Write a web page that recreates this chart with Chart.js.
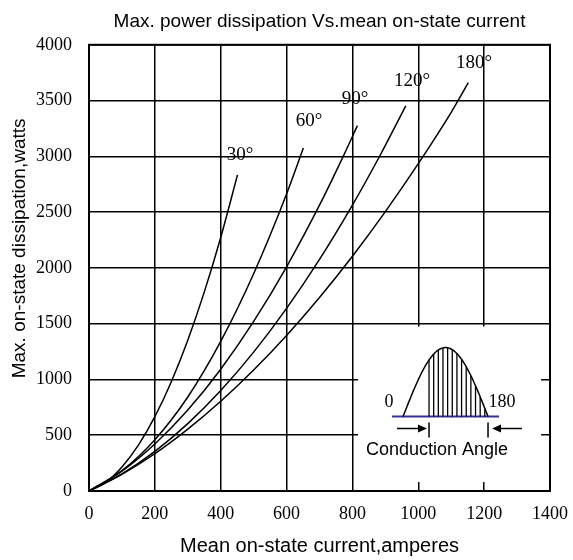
<!DOCTYPE html>
<html>
<head>
<meta charset="utf-8">
<script src="https://cdn.jsdelivr.net/npm/chart.js@4.4.1/dist/chart.umd.min.js"></script>
<style>
    html, body { margin: 0; padding: 0; background: #fff; }
    #wrap { width: 573px; height: 560px; }
</style>
</head>
<body>
<div id="wrap"><canvas id="powerChart"></canvas></div>
<script>
// ====== DATA ======
const xTickValues = [0, 200, 400, 600, 800, 1000, 1200, 1400];
const yTickValues = [0, 500, 1000, 1500, 2000, 2500, 3000, 3500, 4000];

const current30 = [0, 50, 100, 150, 200, 250, 300, 350, 400, 451];
const power30   = [0, 75, 215, 411, 666, 980, 1352, 1783, 2273, 2834];

const current60 = [0, 100, 200, 300, 400, 500, 600, 651];
const power60   = [0, 182, 460, 843, 1341, 1947, 2662, 3074];

const current90 = [0, 100, 200, 300, 400, 500, 600, 700, 772, 815];
const power90   = [0, 178, 422, 726, 1092, 1520, 2010, 2562, 3000, 3275];

const current120 = [0, 100, 200, 300, 400, 500, 600, 700, 800, 883, 962];
const power120   = [0, 154, 355, 604, 901, 1245, 1637, 2076, 2563, 3003, 3453];

const current180 = [0, 100, 200, 300, 400, 500, 600, 700, 800, 900, 1000, 1100, 1152];
const power180   = [0, 150, 335, 555, 805, 1085, 1395, 1735, 2105, 2505, 2935, 3395, 3660];

const angleLabels = ['30°', '60°', '90°', '120°', '180°'];
const angleLabelX = [459, 668, 808, 981, 1169];
const angleLabelY = [3011, 3317, 3515, 3676, 3838];

const yTitle = 'Max. on-state dissipation,watts';
const yTitleAt = 2175;   // the rotated title sits a bit above the axis middle

// inset box (in axis units) that hides the grid behind the waveform sketch
const insetX = [817, 1373];
const insetY = [80, 1474];

function toPoints(xs, ys) {
    return xs.map((v, i) => ({ x: v, y: ys[i] }));
}

function curve(label, xs, ys) {
    return {
        label: label,
        data: toPoints(xs, ys),
        showLine: true,
        borderColor: '#000',
        borderWidth: 1.5,
        pointRadius: 0,
        fill: false,
        cubicInterpolationMode: 'monotone'
    };
}

// ====== PLUGINS ======
const frame = {
    id: 'frame',
    afterDatasetsDraw(chart) {
        const { ctx, chartArea: a } = chart;
        ctx.save();
        ctx.strokeStyle = '#000';
        ctx.lineWidth = 2;
        ctx.strokeRect(a.left, a.top, a.right - a.left, a.bottom - a.top);
        ctx.restore();
    }
};

const angleText = {
    id: 'angleText',
    afterDatasetsDraw(chart) {
        const { ctx, scales } = chart;
        ctx.save();
        ctx.font = '19px "Liberation Serif"';
        ctx.fillStyle = '#000';
        ctx.textAlign = 'center';
        ctx.textBaseline = 'middle';
        angleLabels.forEach((t, i) => {
            ctx.fillText(t, scales.x.getPixelForValue(angleLabelX[i]), scales.y.getPixelForValue(angleLabelY[i]));
        });

        // y axis title
        ctx.translate(20, scales.y.getPixelForValue(yTitleAt));
        ctx.rotate(-Math.PI / 2);
        ctx.font = '19px "Liberation Sans"';
        ctx.fillText(yTitle, 0, 0);
        ctx.restore();
    }
};

const inset = {
    id: 'inset',
    afterDatasetsDraw(chart) {
        const { ctx, scales } = chart;
        const left = scales.x.getPixelForValue(insetX[0]);
        const right = scales.x.getPixelForValue(insetX[1]);
        const top = scales.y.getPixelForValue(insetY[1]);
        const bottom = scales.y.getPixelForValue(insetY[0]);
        ctx.save();
        ctx.fillStyle = '#fff';
        ctx.fillRect(left, top, right - left, bottom - top);

        const ox = left, oy = top;
        const baseY = oy + 90;
        const s0 = ox + 45, s1 = ox + 130, amp = 69;
        const sineY = px => baseY - amp * Math.sin(Math.PI * (px - s0) / (s1 - s0));

        // baseline
        ctx.strokeStyle = '#333399';
        ctx.lineWidth = 2;
        ctx.beginPath();
        ctx.moveTo(ox + 34, baseY);
        ctx.lineTo(ox + 141, baseY);
        ctx.stroke();

        // half sine
        ctx.strokeStyle = '#000';
        ctx.lineWidth = 1.5;
        ctx.beginPath();
        for (let px = s0; px <= s1; px += 1) {
            if (px === s0) ctx.moveTo(px, sineY(px)); else ctx.lineTo(px, sineY(px));
        }
        ctx.stroke();

        // hatching over the conducting part
        ctx.lineWidth = 1.3;
        for (let i = 0; i < 13; i++) {
            const px = ox + 71 + i * 4.65;
            ctx.beginPath();
            ctx.moveTo(px, baseY);
            ctx.lineTo(px, sineY(px));
            ctx.stroke();
        }

        // 0 / 180
        ctx.fillStyle = '#000';
        ctx.font = '18px "Liberation Serif"';
        ctx.textAlign = 'center';
        ctx.textBaseline = 'middle';
        ctx.fillText('0', ox + 31, oy + 76);
        ctx.fillText('180', ox + 144, oy + 76);

        // arrows
        const ay = oy + 102;
        ctx.lineWidth = 1.5;
        ctx.beginPath();
        ctx.moveTo(ox + 39, ay); ctx.lineTo(ox + 62, ay);
        ctx.moveTo(ox + 71, ay - 6); ctx.lineTo(ox + 71, ay + 9);
        ctx.moveTo(ox + 164, ay); ctx.lineTo(ox + 141, ay);
        ctx.moveTo(ox + 130, ay - 6); ctx.lineTo(ox + 130, ay + 9);
        ctx.stroke();
        ctx.beginPath();
        ctx.moveTo(ox + 69, ay); ctx.lineTo(ox + 60, ay - 4); ctx.lineTo(ox + 60, ay + 4); ctx.closePath();
        ctx.moveTo(ox + 134, ay); ctx.lineTo(ox + 143, ay - 4); ctx.lineTo(ox + 143, ay + 4); ctx.closePath();
        ctx.fill();

        ctx.font = '18px "Liberation Sans"';
        ctx.textAlign = 'left';
        ctx.fillText('Conduction Angle', ox + 8, oy + 123);
        ctx.restore();
    }
};

// ====== CHART ======
const serif = { family: 'Liberation Serif', size: 18 };
const sans = { family: 'Liberation Sans', size: 20, weight: 'normal' };

new Chart(document.getElementById('powerChart').getContext('2d'), {
    type: 'scatter',
    data: {
        datasets: [
            curve('30°', current30, power30),
            curve('60°', current60, power60),
            curve('90°', current90, power90),
            curve('120°', current120, power120),
            curve('180°', current180, power180)
        ]
    },
    options: {
        responsive: true,
        maintainAspectRatio: false,
        animation: false,
        layout: { padding: { left: 4, right: 23, top: 0, bottom: 0 } },
        plugins: {
            legend: { display: false },
            tooltip: { enabled: false },
            title: {
                display: true,
                fullSize: false,
                text: 'Max. power dissipation Vs.mean on-state current',
                font: { family: 'Liberation Sans', size: 19, weight: 'normal' },
                color: '#000',
                padding: { top: 10, bottom: 12 }
            }
        },
        scales: {
            x: {
                type: 'linear',
                min: 0, max: 1400,
                afterBuildTicks: s => { s.ticks = xTickValues.map(v => ({ value: v })); },
                afterFit: s => { s.height = 69; s.paddingLeft = 0; s.paddingRight = 20; },
                ticks: { font: serif, color: '#000', padding: 12, maxRotation: 0, callback: v => String(v) },
                grid: { color: '#000', lineWidth: 1.5, drawTicks: false },
                border: { color: '#000', width: 2 },
                title: { display: true, text: 'Mean on-state current,amperes', font: sans, color: '#000', padding: { top: 0, bottom: 2 } }
            },
            y: {
                type: 'linear',
                min: 0, max: 4000,
                afterBuildTicks: s => { s.ticks = yTickValues.map(v => ({ value: v })); },
                afterFit: s => { s.width = 85; },
                ticks: { font: serif, color: '#000', padding: 17, callback: v => String(v) },
                grid: { color: '#000', lineWidth: 1.5, drawTicks: false },
                border: { color: '#000', width: 2 }
            }
        }
    },
    plugins: [inset, frame, angleText]
});
</script>
</body>
</html>
